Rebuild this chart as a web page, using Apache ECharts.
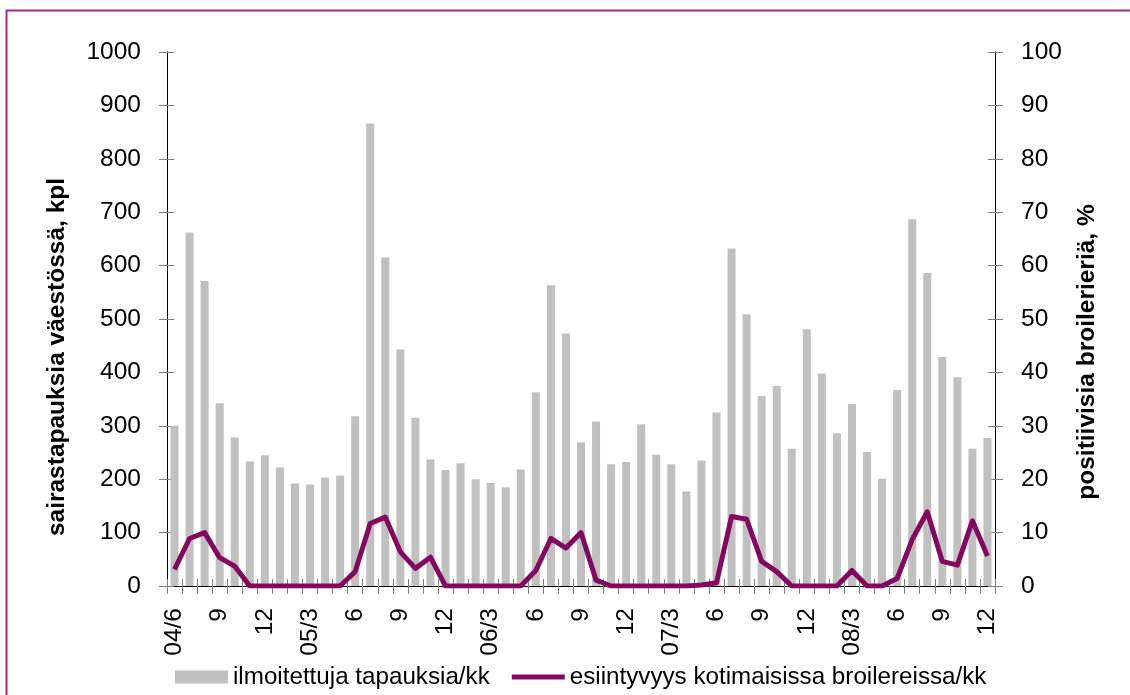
<!DOCTYPE html>
<html>
<head>
<meta charset="utf-8">
<script src="https://cdn.jsdelivr.net/npm/echarts@6/dist/echarts.min.js"></script>
<style>
html,body{margin:0;padding:0;background:#fff;}
#chart{width:1130px;height:695px;}
</style>
</head>
<body>
<div id="chart"></div>
<script>
const months = ["04/6","7","8","9","10","11","12",
  "1","2","05/3","4","5","6","7","8","9","10","11","12",
  "1","2","06/3","4","5","6","7","8","9","10","11","12",
  "1","2","07/3","4","5","6","7","8","9","10","11","12",
  "1","2","08/3","4","5","6","7","8","9","10","11","12"];
const cases = [300,662,571,342,278,233,245,222,192,190,203,207,
  318,866,615,443,315,237,217,230,200,193,185,218,
  363,563,473,269,308,228,232,303,246,228,177,235,
  325,632,509,356,375,257,481,398,286,341,251,201,
  367,687,586,429,391,257,277];
const positive = [3.1,8.9,10.0,5.3,3.7,0,0,0,0,0,0,0,
  2.7,11.7,12.9,6.4,3.3,5.4,0,0,0,0,0,0,
  2.9,8.9,7.1,10.0,1.1,0,0,0,0,0,0,0.2,
  0.6,13.0,12.5,4.6,2.7,0,0,0,0,2.9,0,0,
  1.4,8.7,13.9,4.6,3.9,12.2,5.6];
const leftTicks = [0,1000,100];
const rightTicks = [0,100,10];
const barName = "ilmoitettuja tapauksia/kk";
const lineName = "esiintyvyys kotimaisissa broilereissa/kk";
const leftTitle = "sairastapauksia väestössä, kpl";
const rightTitle = "positiivisia broilerieriä, %";

const FONT = "'Liberation Sans', Arial, sans-serif";
const chart = echarts.init(document.getElementById('chart'));
const tickColor = '#808080';
const lineColor = '#850860';
const lbl = {fontFamily: FONT, fontSize: 24.5, color: '#000', formatter: v => String(v)};

chart.setOption({
  animation: false,
  backgroundColor: '#fff',
  grid: {left: 167, right: 135, top: 52, bottom: 109, containLabel: false},
  legend: {
    left: 170, top: 660,
    itemWidth: 53, itemHeight: 13, itemGap: 22,
    textStyle: {fontFamily: FONT, fontSize: 24.2, color: '#000'},
    data: [
      {name: barName, icon: 'rect', itemStyle: {color: '#c0c0c0'}},
      {name: lineName, icon: 'path://M0,0 L53,0 L53,5 L0,5 Z', itemStyle: {color: lineColor}}
    ]
  },
  xAxis: [{
    type: 'category', data: months, position: 'bottom',
    axisLine: {lineStyle: {color: '#000', width: 1}},
    axisTick: {show: true, interval: 0, length: 8, lineStyle: {color: tickColor}},
    axisLabel: {interval: 2, rotate: 90, margin: 22, fontFamily: FONT, fontSize: 24.5, color: '#000'}
  }, {
    type: 'category', data: months, position: 'bottom',
    axisLine: {show: false},
    axisTick: {show: true, inside: true, interval: 0, length: 7, lineStyle: {color: tickColor}},
    axisLabel: {show: false}
  }],
  yAxis: [{
    type: 'value', min: leftTicks[0], max: leftTicks[1], interval: leftTicks[2], position: 'left',
    axisLine: {show: true, lineStyle: {color: '#000', width: 1}},
    axisTick: {show: true, length: 8, lineStyle: {color: tickColor}},
    splitLine: {show: false},
    axisLabel: Object.assign({margin: 26}, lbl)
  }, {
    type: 'value', min: rightTicks[0], max: rightTicks[1], interval: rightTicks[2], position: 'right',
    axisLine: {show: true, lineStyle: {color: '#000', width: 1}},
    axisTick: {show: true, length: 8, lineStyle: {color: tickColor}},
    splitLine: {show: false},
    axisLabel: Object.assign({margin: 26}, lbl)
  }, {
    type: 'value', min: leftTicks[0], max: leftTicks[1], interval: leftTicks[2], position: 'left',
    axisLine: {show: false}, splitLine: {show: false}, axisLabel: {show: false},
    axisTick: {show: true, inside: true, length: 7, lineStyle: {color: tickColor}}
  }, {
    type: 'value', min: rightTicks[0], max: rightTicks[1], interval: rightTicks[2], position: 'right',
    axisLine: {show: false}, splitLine: {show: false}, axisLabel: {show: false},
    axisTick: {show: true, inside: true, length: 7, lineStyle: {color: tickColor}}
  }],
  series: [{
    name: barName, type: 'bar', data: cases,
    xAxisIndex: 0, yAxisIndex: 0,
    barWidth: 8,
    itemStyle: {color: '#c0c0c0'}
  }, {
    name: lineName, type: 'line', data: positive,
    xAxisIndex: 0, yAxisIndex: 1,
    symbol: 'none', showSymbol: false,
    lineStyle: {color: lineColor, width: 5, join: 'round'},
    itemStyle: {color: lineColor}
  }],
  graphic: [{
    type: 'rect', silent: true,
    shape: {x: 6.5, y: 10.5, width: 1400, height: 1000},
    style: {fill: 'none', stroke: '#a0288f', lineWidth: 2}
  }, {
    type: 'text', x: 57.5, y: 357, rotation: Math.PI / 2,
    style: {text: leftTitle, fontFamily: FONT, fontSize: 24.5, fontWeight: 'bold', fill: '#000',
      align: 'center', verticalAlign: 'middle'}
  }, {
    type: 'text', x: 1087, y: 352, rotation: Math.PI / 2,
    style: {text: rightTitle, fontFamily: FONT, fontSize: 24.5, fontWeight: 'bold', fill: '#000',
      align: 'center', verticalAlign: 'middle'}
  }]
});
</script>
</body>
</html>
